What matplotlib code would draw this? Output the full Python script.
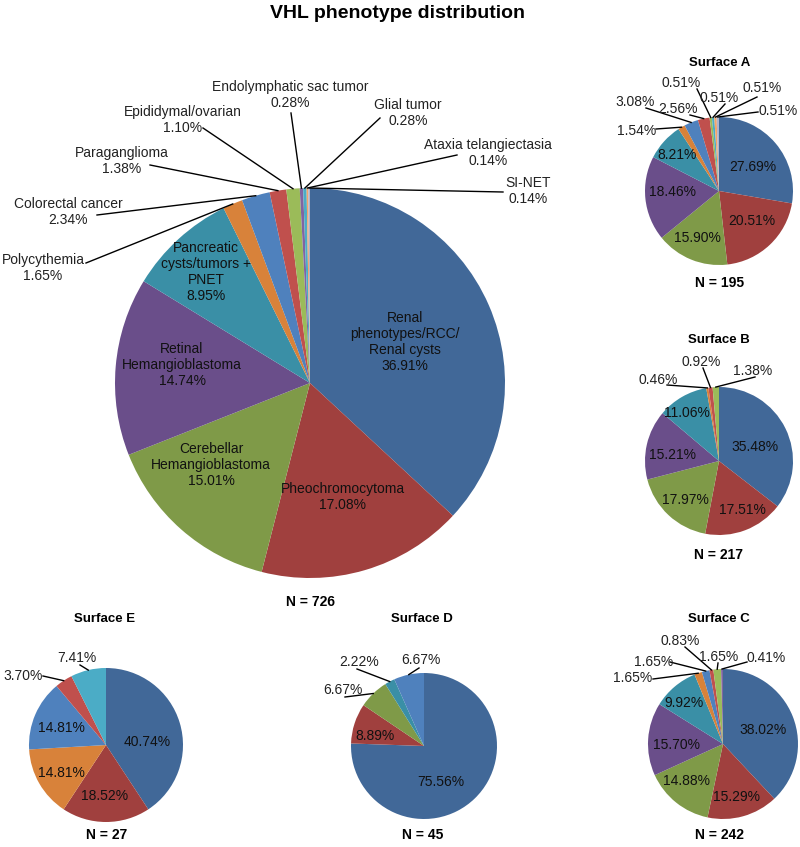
import numpy as np
import matplotlib.pyplot as plt

plt.rcParams['font.family'] = ['Liberation Sans', 'DejaVu Sans']

W, H = 800, 847

# phenotype categories, in slice order (clockwise from 12 o'clock)
categories = ['Renal\nphenotypes/RCC/\nRenal cysts', 'Pheochromocytoma',
              'Cerebellar\nHemangioblastoma', 'Retinal\nHemangioblastoma',
              'Pancreatic\ncysts/tumors +\nPNET', 'Polycythemia', 'Colorectal cancer',
              'Paraganglioma', 'Epididymal/ovarian', 'Endolymphatic sac tumor',
              'Glial tumor', 'Ataxia telangiectasia', 'SI-NET']
colors = ['#416898', '#A0403E', '#7F9A48', '#6A4E8A', '#3A8FA6', '#D8823A',
          '#4F81BD', '#C0504D', '#9BBB59', '#8064A2', '#4BACC6', '#F4A46A', '#B0B4CC']

# percentages per category
all_pct = [36.91, 17.08, 15.01, 14.74, 8.95, 1.65, 2.34, 1.38, 1.10, 0.28, 0.28, 0.14, 0.14]
surf_a = [27.69, 20.51, 15.90, 18.46, 8.21, 1.54, 3.08, 2.56, 0.51, 0, 0.51, 0.51, 0.51]
surf_b = [35.48, 17.51, 17.97, 15.21, 11.06, 0.46, 0, 0.92, 1.38, 0, 0, 0, 0]
surf_c = [38.02, 15.29, 14.88, 15.70, 9.92, 1.65, 1.65, 0.83, 1.65, 0.41, 0, 0, 0]
surf_d = [75.56, 8.89, 6.67, 0, 2.22, 0, 6.67, 0, 0, 0, 0, 0, 0]
surf_e = [40.74, 18.52, 0, 0, 0, 14.81, 14.81, 3.70, 0, 0, 7.41, 0, 0]
n_all, n_a, n_b, n_c, n_d, n_e = 726, 195, 217, 242, 45, 27

# layout in pixels: centre, radius, title pos, N pos,
# inner labels {cat: (x, y)}, outer labels {cat: (x, y, line_x, line_y)}
pies = [
    dict(vals=all_pct, n=n_all, c=(310, 383), r=195, title=None, npos=(310, 602), names=True,
         inner={0: (405, 342), 1: (343, 497), 2: (211, 465), 3: (182, 365), 4: (206, 272)},
         outer={5: (43, 268, 86, 263), 6: (68, 212, 97, 215), 7: (122, 161, 150, 165),
                8: (183, 120, 203, 128), 9: (290, 95, 291, 113), 10: (408, 113, 380, 118),
                11: (488, 153, 457, 155), 12: (528, 191, 503, 192)}),
    dict(vals=surf_a, n=n_a, c=(719, 191), r=74, title='Surface A', tpos=(720, 63), npos=(720, 283),
         inner={0: (753, 167), 1: (752, 221), 2: (697, 238), 3: (672, 192), 4: (677, 155)},
         outer={5: (637, 131, 656, 129), 6: (635, 102, 646, 108), 7: (678, 109, 690, 115),
                8: (681, 83, 697, 89), 10: (719, 98, 725, 104), 11: (762, 88, 757, 97),
                12: (778, 111, 758, 112)}),
    dict(vals=surf_b, n=n_b, c=(719, 461), r=74, title='Surface B', tpos=(719, 340), npos=(719, 555),
         inner={0: (755, 447), 1: (742, 510), 2: (685, 500), 3: (673, 455), 4: (687, 413)},
         outer={5: (658, 380, 667, 385), 7: (701, 362, 703, 368), 8: (753, 371, 755, 377)}),
    dict(vals=surf_c, n=n_c, c=(723, 744), r=75, title='Surface C', tpos=(719, 619), npos=(719, 835),
         inner={0: (763, 730), 1: (737, 797), 2: (687, 781), 3: (677, 745), 4: (684, 703)},
         outer={5: (633, 678, 653, 679), 6: (654, 662, 670, 662), 7: (680, 641, 685, 647),
                8: (719, 657, 718, 663), 9: (766, 658, 747, 662)}),
    dict(vals=surf_d, n=n_d, c=(424, 746), r=73, title='Surface D', tpos=(422, 619), npos=(423, 835),
         inner={0: (441, 782), 1: (375, 736)},
         outer={2: (343, 690, 345, 697), 4: (359, 662, 357, 669), 6: (421, 660, 419, 668)}),
    dict(vals=surf_e, n=n_e, c=(106, 745), r=77, title='Surface E', tpos=(105, 619), npos=(107, 835),
         inner={0: (147, 742), 1: (105, 796), 5: (61, 773), 6: (61, 728)},
         outer={7: (23, 676, 43, 676), 10: (77, 658, 80, 665)}),
]

fig = plt.figure(figsize=(W / 100, H / 100), dpi=100)
ax = fig.add_axes([0, 0, 1, 1])

for p in pies:
    idx = [i for i, v in enumerate(p['vals']) if v > 0]
    vals = [p['vals'][i] for i in idx]
    cx, cy = p['c']
    wedges, _ = ax.pie(vals, colors=[colors[i] for i in idx], startangle=90, counterclock=False,
                       center=(cx, H - cy), radius=p['r'],
                       wedgeprops=dict(linewidth=0))
    for k, i in enumerate(idx):
        txt = '%.2f%%' % p['vals'][i]
        if p.get('names'):
            txt = categories[i] + '\n' + txt
        if i in p['inner']:
            x, y = p['inner'][i]
            ax.text(x, H - y, txt, ha='center', va='center', fontsize=10, color='#111111',
                    linespacing=1.2)
        elif i in p['outer']:
            x, y, lx, ly = p['outer'][i]
            ax.text(x, H - y, txt, ha='center', va='center', fontsize=10, color='#222222',
                    linespacing=1.2)
            w = wedges[k]
            mid = np.deg2rad((w.theta1 + w.theta2) / 2)
            ex = cx + p['r'] * np.cos(mid)
            ey = H - cy + p['r'] * np.sin(mid)
            ax.plot([lx, ex], [H - ly, ey], color='black', lw=1.0)
    if p['title']:
        ax.text(p['tpos'][0], H - p['tpos'][1], p['title'], ha='center', va='center',
                fontsize=9.5, fontweight='bold')
    ax.text(p['npos'][0], H - p['npos'][1], 'N = %d' % p['n'], ha='center', va='center',
            fontsize=10, fontweight='bold')

ax.text(398, H - 13, 'VHL phenotype distribution', ha='center', va='center',
        fontsize=14, fontweight='bold')

ax.set_xlim(0, W)
ax.set_ylim(0, H)
ax.set_aspect('equal')
ax.axis('off')

fig.savefig('out.png', dpi=100)
